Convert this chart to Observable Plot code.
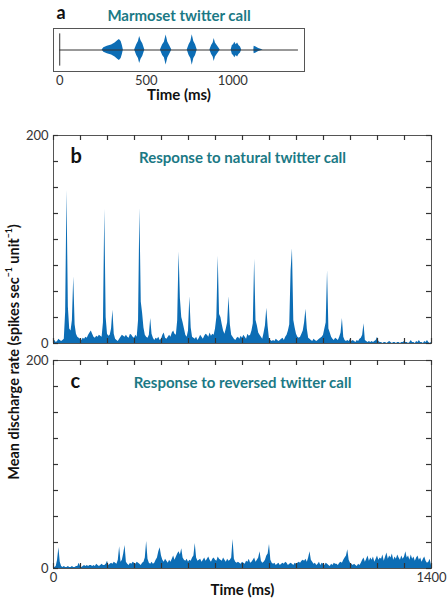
<!DOCTYPE html>
<html>
<head>
<meta charset="utf-8">
<script src="https://cdn.jsdelivr.net/npm/d3@7"></script>
<script src="https://cdn.jsdelivr.net/npm/@observablehq/plot@0.6"></script>
<style>
  html, body { margin: 0; padding: 0; background: #fff; }
  #fig { position: relative; width: 448px; height: 600px; overflow: hidden; }
  #fig svg { position: absolute; left: 0; background: transparent !important; }
  #ylab { position: absolute; left: 13px; top: 352px; transform: translate(-50%, -50%) rotate(-90deg);
          white-space: nowrap; font-family: Lato, "Open Sans", sans-serif; font-weight: bold; font-size: 14.5px; color: #111; }
  #ylab sup { font-size: 0.6em; vertical-align: 0.7em; line-height: 0; }
</style>
</head>
<body>
<div id="fig">
  <div id="ylab">Mean discharge rate (spikes sec<sup>−1</sup> unit<sup>−1</sup>)</div>
</div>
<script>
// ---------- data ----------
const titleA = "Marmoset twitter call";
const titleB = "Response to natural twitter call";
const titleC = "Response to reversed twitter call";
const xLabel = "Time (ms)";

// Panel a: call envelope, each burst as [time ms, half-amplitude]
const burst1 = [[245,0],[255,0.15],[275,0.25],[300,0.33],[320,0.45],[335,0.6],[345,0.68],[355,0.55],[362,0.3],[368,0]];
const burst2 = [[433,0],[445,0.35],[455,0.55],[462,0.88],[470,0.6],[480,0.4],[492,0]];
const burst3 = [[582,0],[595,0.35],[605,0.5],[615,0.98],[625,0.5],[635,0.3],[648,0]];
const burst4 = [[737,0],[748,0.35],[758,0.55],[766,1.0],[775,0.55],[785,0.35],[795,0]];
const burst5 = [[868,0],[878,0.3],[887,0.45],[893,0.75],[900,0.45],[910,0.3],[928,0]];
const burst6 = [[991,0],[998,0.3],[1005,0.35],[1012,0.5],[1020,0.35],[1028,0.45],[1036,0.3],[1045,0.2],[1052,0]];
const burst7 = [[1122,0],[1124,0.25],[1135,0.2],[1150,0.1],[1176,0]];
const callBursts = [burst1, burst2, burst3, burst4, burst5, burst6, burst7];
const callLineEnd = 1380;
const callTicks = [0, 500, 1000];

// Panels b, c: PSTH, 5 ms bins starting at 0 ms (spikes/s/unit)
const BIN_MS = 5;
const respNatural = [
  2,3,1,2,4,3,2,3,4,30,      147,35,14,12,22,64,18,9,6,5,
  4,3,5,4,6,5,8,10,12,9,     6,5,7,6,8,7,6,20,129,25,
  9,7,8,14,32,9,4,3,2,4,     6,8,7,6,8,6,5,9,8,6,
  5,8,6,22,130,40,29,15,8,6, 5,8,24,9,5,3,5,4,6,3,
  4,8,10,5,4,6,8,6,10,12,    9,8,22,88,43,25,20,14,8,6,
  12,45,15,6,5,4,6,3,5,8,    6,4,7,9,8,6,10,7,9,8,
  14,25,84,28,25,18,12,9,14,20, 45,18,8,6,4,3,5,6,4,7,
  5,8,6,4,9,7,8,12,19,81,    22,17,10,8,6,4,10,17,34,16,
  4,3,2,3,2,4,3,2,3,4,       5,3,6,8,12,18,70,91,22,15,
  9,6,5,6,9,12,20,33,14,5,   4,3,2,4,3,2,3,4,5,6,
  8,14,20,70,14,10,6,4,3,5,  4,3,6,10,24,6,3,2,3,2,
  4,2,3,2,1,3,2,4,5,8,       19,3,2,1,2,1,2,1,2,3,
  6,2,1,1,0,1,1,0,1,2,       1,0,1,1,0,1,1,0,1,1,
  2,1,1,0,1,3,1,1,0,2,       1,3,1,1,0,2,1,3,1,0,1
];
const respReversed = [
  2,1,2,8,20,6,2,1,2,1,      1,2,1,1,2,1,1,2,2,5,
  2,1,2,3,2,3,2,3,3,2,       3,2,4,3,2,3,4,3,3,4,
  7,3,4,5,4,6,5,4,8,21,      6,8,14,22,6,4,3,5,4,6,
  5,4,6,5,4,3,5,6,10,26,     9,5,4,6,4,5,8,10,16,20,
  12,8,6,9,7,5,8,6,9,12,     8,11,14,16,13,19,10,8,7,9,
  6,8,7,10,12,24,10,7,8,9,   6,8,10,7,9,11,8,6,9,10,
  8,7,11,9,8,7,10,8,6,9,     7,8,10,28,9,6,5,6,5,4,
  6,5,4,7,6,9,5,6,8,10,      6,8,10,16,7,5,6,8,12,14,
  23,8,5,4,5,3,4,5,3,4,      5,4,6,5,3,4,5,4,3,5,
  4,5,6,5,7,8,7,9,6,10,      16,8,6,4,5,3,4,6,3,5,
  4,3,5,4,3,2,4,3,5,4,       4,3,5,6,5,8,10,12,18,8,
  5,4,3,4,3,2,4,3,5,8,       10,6,9,12,7,10,8,11,6,9,
  12,8,10,9,13,7,11,15,9,12, 10,14,8,11,9,13,10,8,12,9,
  11,16,10,12,8,13,9,11,7,10, 12,8,10,6,9,11,7,5,6,9,3
];
const xMinorTicks = d3.range(0, 1401, 100);
const yMinorTicks = d3.range(0, 201, 25);
const yTickLabels = [0, 200];
const xTickLabels = [0, 1400];

// ---------- style ----------
const FONT = "Lato, 'Open Sans', sans-serif";
const BLUE = "#0c6db5";
const TEAL = "#1b7985";
const FRAME = "#555";
const TICK = "#333";
const TICK_PX = 5;
const fig = document.getElementById("fig");
const plain = d => String(d);

function place(svg, top) { svg.style.top = top + "px"; fig.appendChild(svg); }

// ---------- panel a ----------
const callTable = callBursts.flatMap((b, k) => b.map(([t, a]) => ({burst: k, t, a})));
const pa = Plot.plot({
  width: 448, height: 105,
  marginTop: 28, marginBottom: 34, marginLeft: 53, marginRight: 144,
  style: {fontFamily: FONT, fontSize: "13px", color: "#333", background: "transparent"},
  x: {domain: [-36, 1415]},
  y: {domain: [-1.4, 1.4], axis: null},
  marks: [
    Plot.areaY(callTable, {x: "t", y1: d => -d.a, y2: d => d.a, z: "burst", fill: BLUE, curve: "linear"}),
    Plot.ruleY([0], {x1: 0, x2: callLineEnd, stroke: "#333", strokeWidth: 1}),
    Plot.ruleX([0], {y1: -1.05, y2: 1.05, stroke: "#333", strokeWidth: 1}),
    Plot.frame({stroke: FRAME}),
    Plot.axisX({ticks: callTicks, tickSize: 0, tickPadding: 4, tickFormat: plain, label: null, fill: "#333"}),
    Plot.text([xLabel], {frameAnchor: "bottom", lineAnchor: "middle", dy: 24, fontWeight: "bold", fontSize: 15, fill: "#111"}),
    Plot.text([titleA], {frameAnchor: "top", lineAnchor: "middle", dy: -12, fontWeight: "bold", fontSize: 15, fill: TEAL}),
    Plot.text(["a"], {frameAnchor: "top-left", lineAnchor: "middle", dx: 3, dy: -15, textAnchor: "start", fontWeight: "bold", fontSize: 18, fill: "#111"})
  ]
});
place(pa, 0);

// ---------- panels b, c ----------
function psth(values, title, letter, opts) {
  const data = values.map((v, i) => ({t: i * BIN_MS, v}));
  const fh = opts.height - opts.marginTop - opts.marginBottom;
  const fw = 448 - 53 - 17;
  const dyT = 200 * TICK_PX / fh;   // tick length in y units
  const dxT = 1400 * TICK_PX / fw;  // tick length in x units
  const marks = [
    Plot.areaY(data, {x: "t", y: "v", fill: BLUE, curve: "linear"}),
    Plot.frame({stroke: FRAME}),
    Plot.ruleX(xMinorTicks, {x: d => d, y1: 0, y2: dyT, stroke: TICK, strokeWidth: 1.2}),
    Plot.ruleX(xMinorTicks, {x: d => d, y1: 200 - dyT, y2: 200, stroke: TICK, strokeWidth: 1.2}),
    Plot.ruleY(yMinorTicks, {y: d => d, x1: 0, x2: dxT, stroke: TICK, strokeWidth: 1.2}),
    Plot.ruleY(yMinorTicks, {y: d => d, x1: 1400 - dxT, x2: 1400, stroke: TICK, strokeWidth: 1.2}),
    Plot.axisY({ticks: yTickLabels, tickSize: 0, tickPadding: 5, tickFormat: plain, label: null, fill: "#333"}),
    Plot.text([title], {frameAnchor: "top", lineAnchor: "middle", dy: 23, fontWeight: "bold", fontSize: 15, fill: TEAL}),
    Plot.text([letter], {frameAnchor: "top-left", lineAnchor: "middle", dx: 17, dy: 21, textAnchor: "start", fontWeight: "bold", fontSize: 20, fill: "#111"})
  ];
  if (opts.xAxis) {
    marks.push(Plot.axisX({ticks: xTickLabels, tickSize: 0, tickPadding: 4, tickFormat: plain, label: null, fill: "#333"}));
    marks.push(Plot.text([xLabel], {frameAnchor: "bottom", lineAnchor: "middle", dy: 22, fontWeight: "bold", fontSize: 15, fill: "#111"}));
  }
  return Plot.plot({
    width: 448, height: opts.height,
    marginTop: opts.marginTop, marginBottom: opts.marginBottom, marginLeft: 53, marginRight: 17,
    style: {fontFamily: FONT, fontSize: "13px", color: "#333", background: "transparent"},
    x: {domain: [0, 1400], axis: opts.xAxis ? undefined : null},
    y: {domain: [0, 200]},
    marks
  });
}
place(psth(respNatural, titleB, "b", {height: 232, marginTop: 15, marginBottom: 9, xAxis: false}), 120);
place(psth(respReversed, titleC, "c", {height: 248, marginTop: 8, marginBottom: 32, xAxis: true}), 352);
</script>
</body>
</html>
